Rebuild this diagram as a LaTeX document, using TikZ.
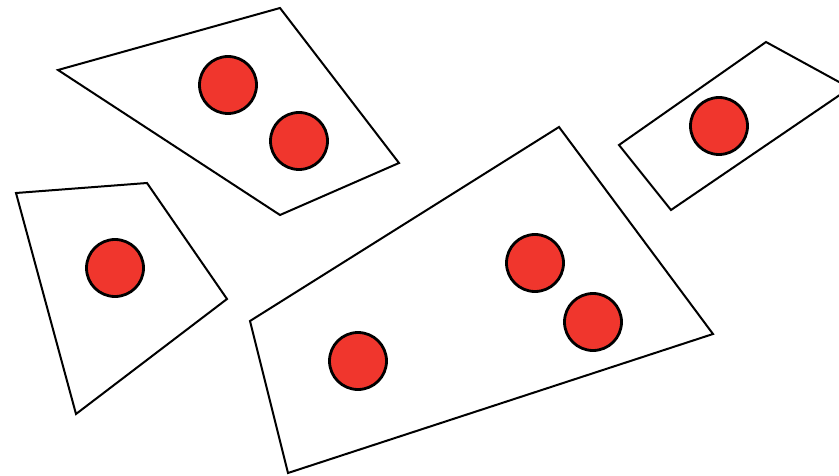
\documentclass[tikz,border=0pt]{standalone}
\usetikzlibrary{positioning}
\definecolor{dotred}{HTML}{F0362D}
\begin{document}
\begin{tikzpicture}[x=1pt, y=-1pt,
  part/.style={draw,line width=2pt,line join=miter},
  dot/.style={circle,draw,fill=dotred,line width=2.8pt,minimum size=57pt,inner sep=0pt}]
\useasboundingbox (0,0) rectangle (839,476);
\clip (0,0) rectangle (839,476);
% pieces
\draw[part] (58,70) -- (280,8) -- (399,163) -- (280,215) -- cycle;
\draw[part] (16,193) -- (147,183) -- (227,299) -- (76,414) -- cycle;
\draw[part] (250,321) -- (559,127) -- (713,334) -- (288,473) -- cycle;
\draw[part] (619,145) -- (766,42) -- (850,88) -- (671,210) -- cycle;
% dots
\node[dot] (a1) at (228,85) {};
\node[dot] (a2) at (299,141) {};
\node[dot] (b1) at (115,268) {};
\node[dot] (c1) at (358,361) {};
\node[dot] (c2) at (535,263) {};
\node[dot] (c3) at (593,322) {};
\node[dot] (d1) at (719,126) {};
\end{tikzpicture}
\end{document}
